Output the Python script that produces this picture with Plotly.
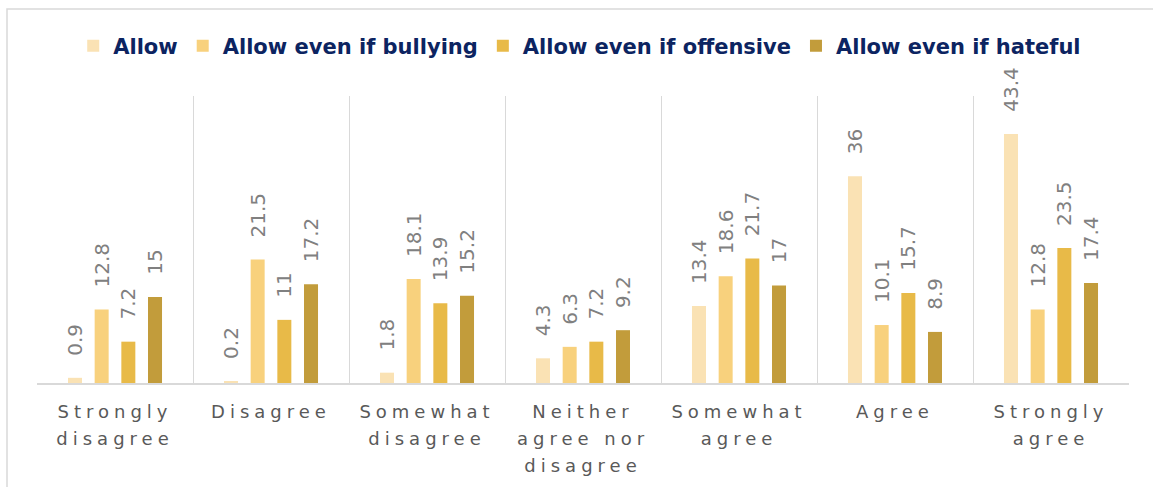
import plotly.graph_objects as go

# Response categories along the x axis
categories = [
    "Strongly<br>disagree",
    "Disagree",
    "Somewhat<br>disagree",
    "Neither<br>agree nor<br>disagree",
    "Somewhat<br>agree",
    "Agree",
    "Strongly<br>agree",
]

# Percentages per series
allow = [0.9, 0.2, 1.8, 4.3, 13.4, 36, 43.4]
allow_bullying = [12.8, 21.5, 18.1, 6.3, 18.6, 10.1, 12.8]
allow_offensive = [7.2, 11, 13.9, 7.2, 21.7, 15.7, 23.5]
allow_hateful = [15, 17.2, 15.2, 9.2, 17, 8.9, 17.4]

series_names = ["Allow", "Allow even if bullying", "Allow even if offensive", "Allow even if hateful"]
series_values = [allow, allow_bullying, allow_offensive, allow_hateful]
series_colors = ["#FAE2B4", "#F8D17D", "#E8BA48", "#C29C3B"]

FONT = "DejaVu Sans"
PAD = "\u00a0\u00a0\u00a0"

fig = go.Figure()
for name, vals, col in zip(series_names, series_values, series_colors):
    fig.add_trace(go.Bar(
        x=categories,
        y=vals,
        name=name,
        marker=dict(color=col, line=dict(width=0)),
        text=[f"{v:g}" for v in vals],
        texttemplate=PAD + "%{text}",
        textposition="outside",
        textangle=-90,
        constraintext="none",
        cliponaxis=False,
        textfont=dict(family=FONT, size=20, color="#808080"),
        hoverinfo="skip",
    ))

fig.update_layout(
    width=1153,
    height=487,
    margin=dict(l=37, r=24, t=96, b=104, autoexpand=False),
    paper_bgcolor="white",
    plot_bgcolor="white",
    barmode="group",
    bargap=0.316,
    bargroupgap=0.475,
    showlegend=True,
    legend=dict(
        orientation="h",
        x=0.497,
        xanchor="center",
        y=1.174,
        yanchor="middle",
        font=dict(family=FONT, size=21, color="#0c2461", weight="bold"),
        itemwidth=30,
        traceorder="normal",
    ),
    xaxis=dict(
        type="category",
        tickson="boundaries",
        showgrid=True,
        gridcolor="#D9D9D9",
        gridwidth=1.3,
        showline=True,
        linecolor="#D9D9D9",
        linewidth=1.5,
        ticks="",
        ticklabelstandoff=12,
        tickfont=dict(family=FONT, size=18, color="#595959"),
        range=[-0.5, 6.5],
        fixedrange=True,
    ),
    yaxis=dict(
        range=[0, 50],
        visible=False,
        showgrid=False,
        zeroline=False,
        fixedrange=True,
    ),
    shapes=[
        dict(
            type="rect", xref="paper", yref="paper",
            x0=(7 - 37) / 1092, x1=1.2,
            y0=-0.6, y1=1 + (96 - 9) / 287,
            line=dict(color="#D9D9D9", width=1.5),
            fillcolor="rgba(0,0,0,0)",
            layer="below",
        )
    ],
)

# Wider tracking and line spacing on the category labels
post = """
var gd = document.getElementById('{plot_id}');
gd.querySelectorAll('.xtick text').forEach(function(t){
  t.style.letterSpacing = '5px';
  t.querySelectorAll('tspan.line').forEach(function(s, i){
    if (i > 0) { s.setAttribute('dy', (i * 1.48).toFixed(2) + 'em'); }
  });
});
"""

fig.write_html("out.html", post_script=post, config={"displayModeBar": False})
